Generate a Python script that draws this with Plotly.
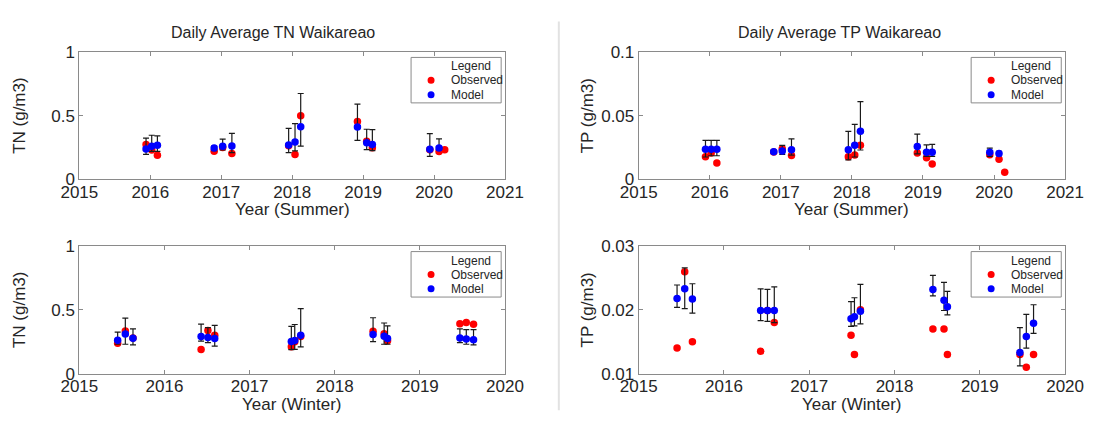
import plotly.graph_objects as go

# ---------------------------------------------------------------------------
# Sampling dates (decimal years)
summer_years = [2015.94, 2016.02, 2016.10, 2016.90, 2017.02, 2017.15,
                2017.95, 2018.04, 2018.12, 2018.92, 2019.05, 2019.13,
                2019.94, 2020.07, 2020.15]
winter_years = [2015.45, 2015.54, 2015.63, 2016.43, 2016.51, 2016.59,
                2017.49, 2017.53, 2017.60, 2018.45, 2018.58, 2018.62,
                2019.47, 2019.545, 2019.63]

# Total nitrogen, summer (g/m3)
tn_summer_obs = [0.273, 0.230, 0.188, 0.220, 0.250, 0.203, 0.263, 0.195, 0.499,
                 0.454, 0.298, 0.248, 0.232, 0.218, 0.233]
tn_summer_mod = [0.238, 0.260, 0.268, 0.245, 0.260, 0.262, 0.270, 0.293, 0.413,
                 0.411, 0.288, 0.273, 0.235, 0.245, None]
tn_summer_lo = [0.195, 0.220, 0.220, 0.225, 0.230, 0.210, 0.210, 0.223, 0.261,
                0.306, 0.233, 0.225, 0.180, 0.228, None]
tn_summer_hi = [0.323, 0.346, 0.341, 0.260, 0.316, 0.360, 0.400, 0.438, 0.674,
                0.590, 0.393, 0.390, 0.358, 0.318, None]

# Total phosphorus, summer (g/m3)
tp_summer_obs = [0.0177, 0.0207, 0.0127, 0.0215, 0.0240, 0.0187, 0.0177, 0.0190,
                 0.0267, 0.0207, 0.0170, 0.0120, 0.0192, 0.0157, 0.0055]
tp_summer_mod = [0.0235, 0.0235, 0.0235, 0.0217, 0.0222, 0.0232, 0.0232, 0.0267,
                 0.0377, 0.0257, 0.0212, 0.0212, 0.0212, 0.0202, None]
tp_summer_lo = [0.0175, 0.0185, 0.0185, 0.0210, 0.0195, 0.0190, 0.0152, 0.0175,
                0.0230, 0.0200, 0.0180, 0.0180, 0.0180, 0.0185, None]
tp_summer_hi = [0.0305, 0.0305, 0.0305, 0.0225, 0.0267, 0.0317, 0.0377, 0.0432,
                0.0610, 0.0355, 0.0270, 0.0275, 0.0245, 0.0220, None]

# Total nitrogen, winter (g/m3)
tn_winter_obs = [0.238, 0.335, 0.280, 0.188, 0.337, 0.300, 0.210, 0.250, 0.290,
                 0.333, 0.313, 0.258, 0.390, 0.400, 0.387]
tn_winter_mod = [0.262, 0.310, 0.277, 0.290, 0.283, 0.275, 0.252, 0.260, 0.300,
                 0.307, 0.293, 0.275, 0.280, 0.272, 0.265]
tn_winter_lo = [0.230, 0.230, 0.225, 0.255, 0.243, 0.215, 0.188, 0.190, 0.210,
                0.250, 0.230, 0.230, 0.243, 0.230, 0.225]
tn_winter_hi = [0.325, 0.435, 0.350, 0.388, 0.360, 0.378, 0.370, 0.385, 0.510,
                0.438, 0.397, 0.375, 0.350, 0.345, 0.345]

# Total phosphorus, winter (g/m3)
tp_winter_obs = [0.0140, 0.0260, 0.0150, 0.0135, 0.0199, 0.0180, 0.0160, 0.0130,
                 0.0200, 0.0170, 0.0170, 0.0130, 0.0130, 0.0110, 0.0130]
tp_winter_mod = [0.0218, 0.0233, 0.0217, 0.0199, 0.0199, 0.0199, 0.0186, 0.0189,
                 0.0198, 0.0232, 0.0215, 0.0205, 0.0133, 0.0158, 0.0179]
tp_winter_lo = [0.0204, 0.0202, 0.0195, 0.0183, 0.0182, 0.0180, 0.0174, 0.0175,
                0.0178, 0.0222, 0.0199, 0.0192, 0.0112, 0.0140, 0.0163]
tp_winter_hi = [0.0239, 0.0266, 0.0241, 0.0233, 0.0232, 0.0236, 0.0213, 0.0219,
                0.0240, 0.0254, 0.0243, 0.0229, 0.0172, 0.0193, 0.0208]

# Tick labels
summer_year_ticks = [2015, 2016, 2017, 2018, 2019, 2020, 2021]
winter_year_ticks = [2015, 2016, 2017, 2018, 2019, 2020]
tn_ticks = [0, 0.5, 1]
tp_summer_ticks = [0, 0.05, 0.1]
tp_winter_ticks = [0.01, 0.02, 0.03]

series_names = ["Observed", "Model"]
series_colors = ["#ff0000", "#0000ff"]

# ---------------------------------------------------------------------------
W, H = 1107, 423
FONT = "Arial, Liberation Sans, sans-serif"
TEXT = "#262626"
FRAME = "#8a8a8a"


def fx(p):
    return p / W


def fy(p):
    return 1 - p / H


def fmt(v):
    return f"{v:g}"


panels = [
    dict(x=summer_years, obs=tn_summer_obs, mod=tn_summer_mod, lo=tn_summer_lo,
         hi=tn_summer_hi, xticks=summer_year_ticks, yticks=tn_ticks,
         title="Daily Average TN Waikareao", title_x=263,
         ytitle="TN (g/m3)", ystandoff=21, xtitle="Year (Summer)",
         box=(62.5, 503.3, 45.0, 178.3)),
    dict(x=summer_years, obs=tp_summer_obs, mod=tp_summer_mod, lo=tp_summer_lo,
         hi=tp_summer_hi, xticks=summer_year_ticks, yticks=tp_summer_ticks,
         title="Daily Average TP Waikareao", title_x=850,
         ytitle="TP (g/m3)", ystandoff=3, xtitle="Year (Summer)",
         box=(641.7, 1083.3, 45.0, 178.3)),
    dict(x=winter_years, obs=tn_winter_obs, mod=tn_winter_mod, lo=tn_winter_lo,
         hi=tn_winter_hi, xticks=winter_year_ticks, yticks=tn_ticks,
         title=None, title_x=None,
         ytitle="TN (g/m3)", ystandoff=21, xtitle="Year (Winter)",
         box=(62.5, 503.3, 248.3, 381.7)),
    dict(x=winter_years, obs=tp_winter_obs, mod=tp_winter_mod, lo=tp_winter_lo,
         hi=tp_winter_hi, xticks=winter_year_ticks, yticks=tp_winter_ticks,
         title=None, title_x=None,
         ytitle="TP (g/m3)", ystandoff=3, xtitle="Year (Winter)",
         box=(641.7, 1083.3, 248.3, 381.7)),
]

fig = go.Figure()
annotations = []
shapes = []
layout_axes = {}

for i, p in enumerate(panels, start=1):
    xa, ya = f"x{i}", f"y{i}"
    left, right, top, bottom = p["box"]

    plus = [None if m is None else h - m for m, h in zip(p["mod"], p["hi"])]
    minus = [None if m is None else m - l for m, l in zip(p["mod"], p["lo"])]

    fig.add_trace(go.Scatter(
        x=p["x"], y=p["obs"], mode="markers", name=series_names[0],
        marker=dict(color=series_colors[0], size=7.5),
        xaxis=xa, yaxis=ya, showlegend=False))
    fig.add_trace(go.Scatter(
        x=p["x"], y=p["mod"], mode="markers", name=series_names[1],
        marker=dict(color=series_colors[1], size=7.5),
        error_y=dict(type="data", symmetric=False, array=plus, arrayminus=minus,
                     color="#1a1a1a", thickness=1.2, width=3),
        xaxis=xa, yaxis=ya, showlegend=False))

    common = dict(showline=True, linecolor=FRAME, linewidth=1, mirror="ticks",
                  ticks="inside", ticklen=4, tickcolor=FRAME, showgrid=False,
                  zeroline=False, fixedrange=True,
                  tickfont=dict(family=FONT, size=17, color=TEXT))
    suffix = "" if i == 1 else str(i)
    layout_axes["xaxis" + suffix] = dict(
        common, domain=[fx(left), fx(right)], anchor=ya,
        range=[p["xticks"][0], p["xticks"][-1]],
        tickvals=p["xticks"], ticktext=[str(t) for t in p["xticks"]],
        ticklabelstandoff=-3)
    layout_axes["yaxis" + suffix] = dict(
        common, domain=[fy(bottom), fy(top)], anchor=xa,
        range=[p["yticks"][0], p["yticks"][-1]],
        tickvals=p["yticks"], ticktext=[fmt(t) for t in p["yticks"]],
        title=dict(text=p["ytitle"], standoff=p["ystandoff"],
                   font=dict(family=FONT, size=17, color=TEXT)))

    # titles
    if p["title"]:
        annotations.append(dict(
            text=p["title"], x=fx(p["title_x"]), y=fy(25), xref="paper",
            yref="paper", showarrow=False, xanchor="center", yanchor="middle",
            font=dict(family=FONT, size=16, color=TEXT)))
    annotations.append(dict(
        text=p["xtitle"], x=fx((left + right) / 2), y=fy(bottom + 32),
        xref="paper", yref="paper", showarrow=False, xanchor="center",
        yanchor="middle", font=dict(family=FONT, size=17, color=TEXT)))

    # legend box in the upper right corner of each panel
    bl, br = right - 97.3, right - 4
    bt, bb = top + 5.7, top + 53.3
    shapes.append(dict(type="rect", xref="paper", yref="paper",
                       x0=fx(bl), x1=fx(br), y0=fy(bb), y1=fy(bt),
                       line=dict(color=FRAME, width=1), fillcolor="white"))
    annotations.append(dict(
        text="Legend", x=fx(bl + 39), y=fy(bt + 9.5), xref="paper",
        yref="paper", showarrow=False, xanchor="left", yanchor="middle",
        font=dict(family=FONT, size=12, color=TEXT)))
    for k, (name, color) in enumerate(zip(series_names, series_colors)):
        row_y = bt + 24 + 15 * k
        shapes.append(dict(type="circle", xref="paper", yref="paper",
                           xsizemode="pixel", ysizemode="pixel",
                           xanchor=fx(bl + 20.7), yanchor=fy(row_y),
                           x0=-3.5, x1=3.5, y0=-3.5, y1=3.5,
                           fillcolor=color, line=dict(width=0)))
        annotations.append(dict(
            text=name, x=fx(bl + 39), y=fy(row_y), xref="paper", yref="paper",
            showarrow=False, xanchor="left", yanchor="middle",
            font=dict(family=FONT, size=12, color=TEXT)))

# divider between the TN and TP columns
shapes.append(dict(type="line", xref="paper", yref="paper",
                   x0=fx(559), x1=fx(559), y0=fy(420), y1=fy(13),
                   line=dict(color="#e2e2e2", width=2)))

fig.update_layout(
    width=W, height=H, margin=dict(l=0, r=0, t=0, b=0),
    paper_bgcolor="white", plot_bgcolor="white",
    showlegend=False, annotations=annotations, shapes=shapes,
    font=dict(family=FONT, color=TEXT),
    **layout_axes)

fig.write_html("out.html")
